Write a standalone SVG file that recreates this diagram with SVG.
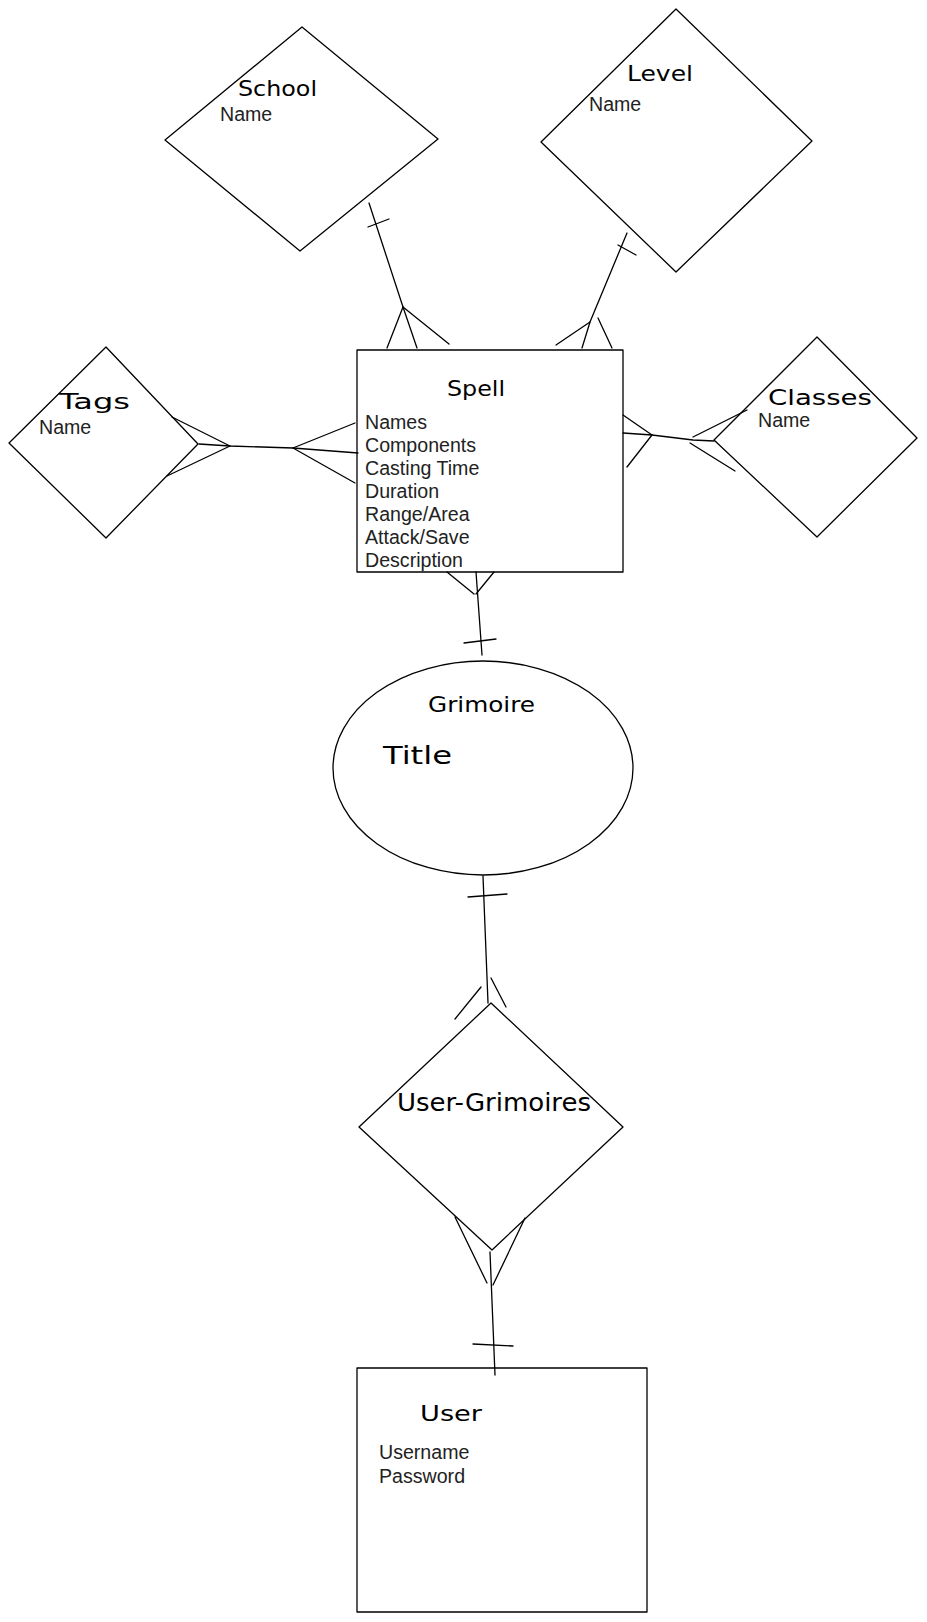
<svg xmlns="http://www.w3.org/2000/svg" width="927" height="1622" viewBox="0 0 927 1622">
<style>
.shape{fill:#ffffff;stroke:#000000;stroke-width:1.3;stroke-linejoin:round}
.ln{fill:none;stroke:#000000;stroke-width:1.3;stroke-linecap:round}
.ttl{font-family:"DejaVu Sans","Liberation Sans",sans-serif;font-size:22px;fill:#000000}
.att{font-family:"Liberation Sans",Arial,sans-serif;font-size:19.6px;fill:#222222}
</style>
<rect x="0" y="0" width="927" height="1622" fill="#ffffff"/>
<g id="school">
<polygon class="shape" points="302,27 438,139 300,251 165,140"/>
<text class="ttl" x="238" y="96" textLength="79" lengthAdjust="spacingAndGlyphs">School</text>
<text class="att" x="220" y="121">Name</text>
</g>
<g id="level">
<polygon class="shape" points="676,9 812,141 676,272 541,142"/>
<text class="ttl" x="627" y="81" textLength="66" lengthAdjust="spacingAndGlyphs">Level</text>
<text class="att" x="589" y="111">Name</text>
</g>
<g id="tags">
<polygon class="shape" points="106,347 198,444 106,538 9,443"/>
<text class="ttl" x="59" y="409" textLength="71" lengthAdjust="spacingAndGlyphs">Tags</text>
<text class="att" x="39" y="434">Name</text>
</g>
<g id="classes">
<polygon class="shape" points="817,337 917,438 817,537 714,440"/>
<text class="ttl" x="768" y="405" textLength="104" lengthAdjust="spacingAndGlyphs">Classes</text>
<text class="att" x="758" y="427">Name</text>
</g>
<g id="spell">
<rect class="shape" x="357" y="350" width="266" height="222"/>
<text class="ttl" x="447" y="396" textLength="58" lengthAdjust="spacingAndGlyphs">Spell</text>
<text class="att" x="365" y="429">Names</text>
<text class="att" x="365" y="452">Components</text>
<text class="att" x="365" y="475">Casting Time</text>
<text class="att" x="365" y="498">Duration</text>
<text class="att" x="365" y="521">Range/Area</text>
<text class="att" x="365" y="544">Attack/Save</text>
<text class="att" x="365" y="567">Description</text>
</g>
<g id="grimoire">
<ellipse class="shape" cx="483" cy="768" rx="150" ry="107"/>
<text class="ttl" x="428" y="712" textLength="107" lengthAdjust="spacingAndGlyphs">Grimoire</text>
<text class="ttl" x="383" y="764" style="font-size:25px" textLength="69" lengthAdjust="spacingAndGlyphs">Title</text>
</g>
<g id="user-grimoires">
<polygon class="shape" points="491,1003 623,1127 492,1250 359,1127"/>
<text class="ttl" x="397" y="1111" style="font-size:24px" textLength="194" lengthAdjust="spacingAndGlyphs">User-Grimoires</text>
</g>
<g id="user">
<rect class="shape" x="357" y="1368" width="290" height="244"/>
<text class="ttl" x="420" y="1421" textLength="62" lengthAdjust="spacingAndGlyphs">User</text>
<text class="att" x="379" y="1459">Username</text>
<text class="att" x="379" y="1483">Password</text>
</g>
<g id="connectors">
<polyline class="ln" points="369,203 403,307 417,348"/>
<line class="ln" x1="403" y1="307" x2="387" y2="348"/>
<line class="ln" x1="403" y1="307" x2="449" y2="344"/>
<line class="ln" x1="368" y1="227" x2="389" y2="219"/>
<polyline class="ln" points="627,233 590,322 582,348"/>
<line class="ln" x1="590" y1="322" x2="556" y2="345"/>
<line class="ln" x1="598" y1="318" x2="612" y2="348"/>
<line class="ln" x1="618" y1="245" x2="636" y2="255"/>
<polyline class="ln" points="199,444 230,446 293,448 358,453"/>
<line class="ln" x1="230" y1="446" x2="172" y2="417"/>
<line class="ln" x1="230" y1="446" x2="167" y2="476"/>
<line class="ln" x1="293" y1="448" x2="355" y2="423"/>
<line class="ln" x1="293" y1="448" x2="355" y2="483"/>
<polyline class="ln" points="623,433 652,435 693,440 714,441"/>
<line class="ln" x1="652" y1="435" x2="623" y2="415"/>
<line class="ln" x1="652" y1="435" x2="627" y2="467"/>
<line class="ln" x1="693" y1="437" x2="747" y2="410"/>
<line class="ln" x1="690" y1="443" x2="735" y2="471"/>
<line class="ln" x1="476" y1="572" x2="482" y2="655"/>
<line class="ln" x1="447" y1="572" x2="474" y2="594"/>
<line class="ln" x1="494" y1="572" x2="476" y2="594"/>
<line class="ln" x1="464" y1="643" x2="496" y2="639"/>
<line class="ln" x1="483" y1="876" x2="488" y2="1003"/>
<line class="ln" x1="468" y1="897" x2="507" y2="894"/>
<line class="ln" x1="455" y1="1019" x2="481" y2="987"/>
<line class="ln" x1="491" y1="978" x2="506" y2="1007"/>
<line class="ln" x1="490" y1="1252" x2="495" y2="1375"/>
<line class="ln" x1="455" y1="1217" x2="487" y2="1283"/>
<line class="ln" x1="525" y1="1218" x2="493" y2="1285"/>
<line class="ln" x1="473" y1="1344" x2="513" y2="1346"/>
</g>
</svg>
